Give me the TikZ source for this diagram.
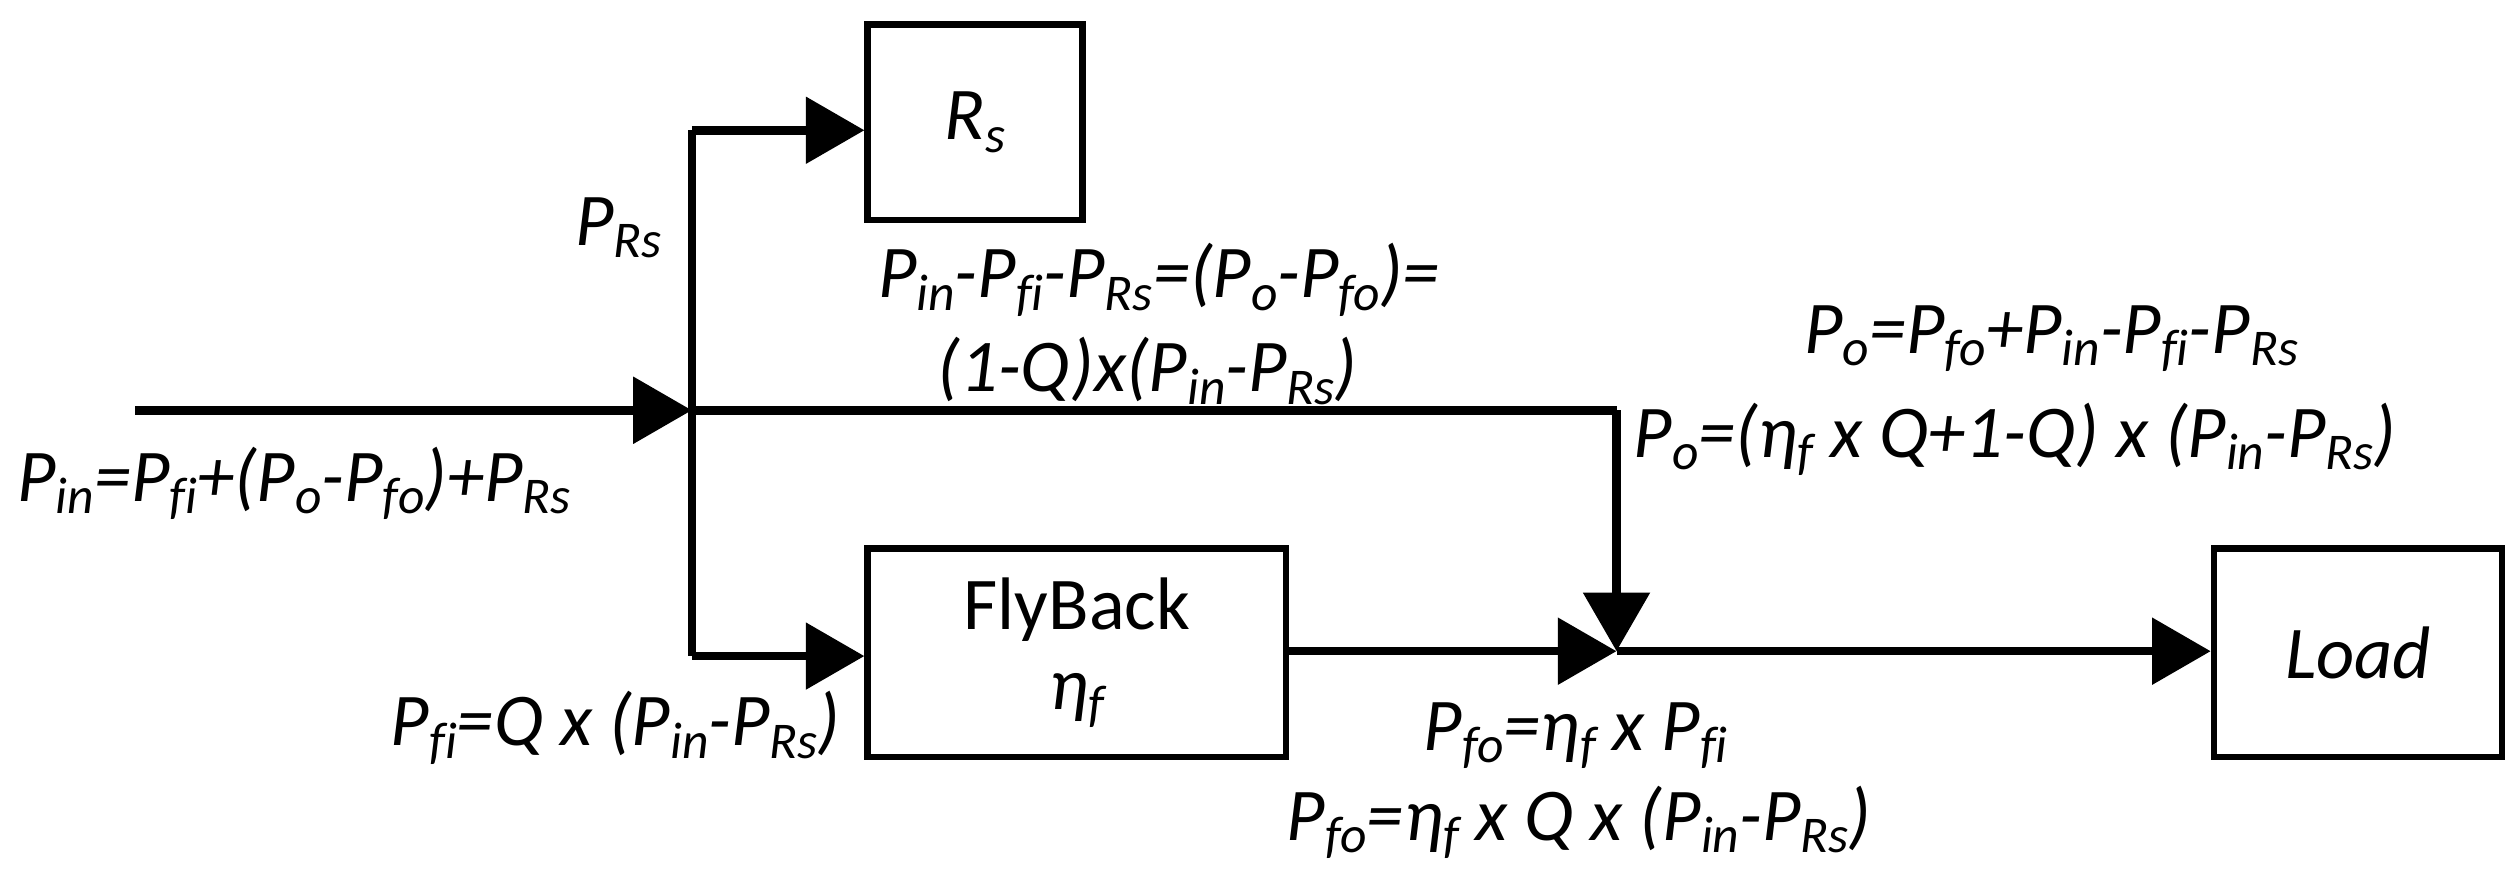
\documentclass[tikz,border=0pt]{standalone}
\usepackage{fontspec}
\setmainfont[Ligatures=NoCommon]{Carlito}
\usetikzlibrary{arrows.meta}
\newcommand{\sbs}[1]{\raisebox{-0.35ex}{\fontsize{9}{9}\selectfont #1}}
\begin{document}
\begin{tikzpicture}[x=0.01cm,y=-0.01cm,
  box/.style={draw,line width=1.1pt,minimum width=#1,inner sep=0pt},
  flow/.style={line width=1.5pt,-{Triangle[length=0.36cm,width=0.4cm]}},
  line/.style={line width=1.5pt},
  lab/.style={font=\fontsize{13}{15}\selectfont\itshape,inner sep=0pt}]
\useasboundingbox (0,0) rectangle (1548,535);
\node[box=1.32cm,minimum height=1.2cm] (rs) at (599,75) {\fontsize{13}{15}\selectfont\itshape R\sbs{s}};
\node[box=2.57cm,minimum height=1.28cm,align=center] (fb) at (661.5,401) {\fontsize{13}{15}\selectfont FlyBack\\[2pt]\fontsize{13}{15}\selectfont\itshape η\sbs{f}};
\node[box=1.77cm,minimum height=1.28cm] (ld) at (1448.5,401) {\fontsize{13}{15}\selectfont\itshape Load};
\coordinate (in) at (83,252);
\coordinate (j) at (425,252);
\coordinate (top) at (425,80);
\coordinate (bot) at (425,403);
\coordinate (c) at (993,252);
\coordinate (m) at (993,400);
\draw[flow] (in) -- (j);
\draw[line] (top) -- (bot);
\draw[flow] (top) -- (rs.west|-top);
\draw[flow] (bot) -- (fb.west|-bot);
\draw[line] (j) -- (c);
\draw[flow] (c) -- (m);
\draw[flow] (fb.east|-m) -- (m);
\draw[flow] (m) -- (ld.west|-m);
\node[lab] (l1) at (380,140) {P\sbs{Rs}};
\node[lab] (l2) at (712,172) {P\sbs{in}-P\sbs{fi}-P\sbs{Rs}=(P\sbs{o}-P\sbs{fo})=};
\node[lab] (l3) at (705,228) {(1-Q)x(P\sbs{in}-P\sbs{Rs})};
\node[lab] (l4) at (1260,208) {P\sbs{o}=P\sbs{fo}+P\sbs{in}-P\sbs{fi}-P\sbs{Rs}};
\node[lab,anchor=west] (l5) at (1003,270) {P\sbs{o}=(η\sbs{f} x Q+1-Q) x (P\sbs{in}-P\sbs{Rs})};
\node[lab,anchor=west] (l6) at (10,297) {P\sbs{in}=P\sbs{fi}+(P\sbs{o}-P\sbs{fo})+P\sbs{Rs}};
\node[lab,anchor=east] (l7) at (517,447) {P\sbs{fi}=Q x (P\sbs{in}-P\sbs{Rs})};
\node[lab] (l8) at (968,452) {P\sbs{fo}=η\sbs{f} x P\sbs{fi}};
\node[lab] (l9) at (970,505) {P\sbs{fo}=η\sbs{f} x Q x (P\sbs{in}-P\sbs{Rs})};
\end{tikzpicture}
\end{document}
